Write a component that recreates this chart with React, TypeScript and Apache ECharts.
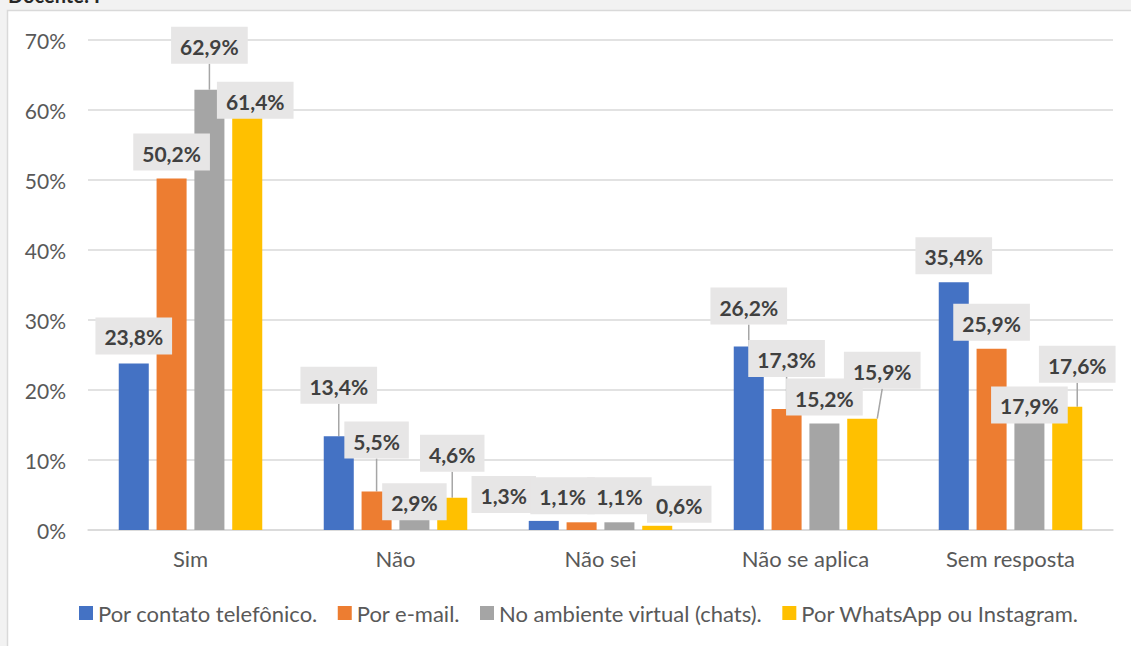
import React, { useEffect, useRef } from "react";
import * as echarts from "echarts";

const categories = ["Sim", "Não", "Não sei", "Não se aplica", "Sem resposta"];
const seriesNames = [
  "Por contato telefônico.",
  "Por e-mail.",
  "No ambiente virtual (chats).",
  "Por WhatsApp ou Instagram.",
];
const telefone = [23.8, 13.4, 1.3, 26.2, 35.4];
const email = [50.2, 5.5, 1.1, 17.3, 25.9];
const ambienteVirtual = [62.9, 2.9, 1.1, 15.2, 17.9];
const whatsapp = [61.4, 4.6, 0.6, 15.9, 17.6];
const yTicks = [0, 10, 20, 30, 40, 50, 60, 70];

const colors = ["#4472c4", "#ed7d31", "#a5a5a5", "#ffc000"];

// label nudges (px) relative to default "top" placement
const labelDx = [
  [0, 0, -40, 0, 0],
  [0, 0, -19, 0, 0],
  [0, 0, 0, 0, 0],
  [8, 0, 22, 20, 10],
];
const labelDy = [
  [-1, -24.5, 0, -14, 0],
  [0, -25, 0, -24, 0],
  [-18, 18.5, 0, 0, 26.7],
  [26.5, -18, 5, -22, -16],
];
const showLeader = [
  [false, true, false, true, false],
  [false, true, false, true, false],
  [true, false, false, false, false],
  [false, true, false, true, true],
];

export default function App() {
  const ref = useRef<HTMLDivElement>(null);
  useEffect(() => {
    if (!ref.current) return;
    const chart = echarts.init(ref.current, null, { renderer: "svg" });
    const all = [telefone, email, ambienteVirtual, whatsapp];
    const fmt = (v: number) => v.toFixed(1).replace(".", ",") + "%";
    chart.setOption({
      animation: false,
      backgroundColor: "#f2f2f2",
      textStyle: { fontFamily: "Lato" },
      graphic: [
        {
          type: "rect",
          z: -10,
          shape: { x: 7.5, y: 10.5, width: 1200, height: 700 },
          style: { fill: "#ffffff", stroke: "#d9d9d9", lineWidth: 1.5 },
        },
        {
          type: "text",
          z: 10,
          left: 8,
          top: -15,
          style: {
            text: "Docente: I",
            font: "bold 20px Lato",
            fill: "#262626",
          },
        },
      ],
      grid: { left: 88, right: 18, top: 40, bottom: 116, containLabel: false },
      legend: {
        top: 597,
        left: 74,
        itemWidth: 14,
        itemHeight: 14,
        itemGap: 20,
        icon: "rect",
        textStyle: { fontFamily: "Lato", fontSize: 22, color: "#595959" },
        data: seriesNames,
      },
      xAxis: {
        type: "category",
        data: categories,
        axisTick: { show: false },
        axisLine: { lineStyle: { color: "#d9d9d9", width: 1.5 } },
        axisLabel: { fontFamily: "Lato", fontSize: 22, color: "#595959", margin: 17 },
      },
      yAxis: {
        type: "value",
        min: yTicks[0],
        max: yTicks[yTicks.length - 1],
        interval: 10,
        axisLine: { show: false },
        axisTick: { show: false },
        splitLine: { lineStyle: { color: "#d9d9d9", width: 1.5 } },
        axisLabel: {
          fontFamily: "Lato",
          fontSize: 21,
          color: "#595959",
          margin: 22,
          formatter: (v: number) => v + "%",
        },
      },
      series: all.map((vals, si) => ({
        name: seriesNames[si],
        type: "bar",
        barGap: "26%",
        barCategoryGap: "30%",
        itemStyle: { color: colors[si] },
        data: vals.map((v, di) => ({
          value: v,
          labelLine: {
            show: showLeader[si][di],
            lineStyle: { color: "#a6a6a6", width: 1.5 },
          },
        })),
        label: {
          show: true,
          position: "top",
          distance: 8,
          formatter: (p: any) => fmt(p.value),
          fontFamily: "Lato",
          fontWeight: "bold",
          fontSize: 21,
          lineHeight: 23,
          color: "#404040",
          backgroundColor: "#e7e6e6",
          padding: [8, 9, 6, 9],
        },
        labelLayout: (p: any) => ({
          dx: labelDx[p.seriesIndex][p.dataIndex],
          dy: labelDy[p.seriesIndex][p.dataIndex],
        }),
      })),
    });
    return () => chart.dispose();
  }, []);
  return (
    <div
      ref={ref}
      style={{ position: "fixed", left: 0, top: 0, width: 1131, height: 646 }}
    />
  );
}
